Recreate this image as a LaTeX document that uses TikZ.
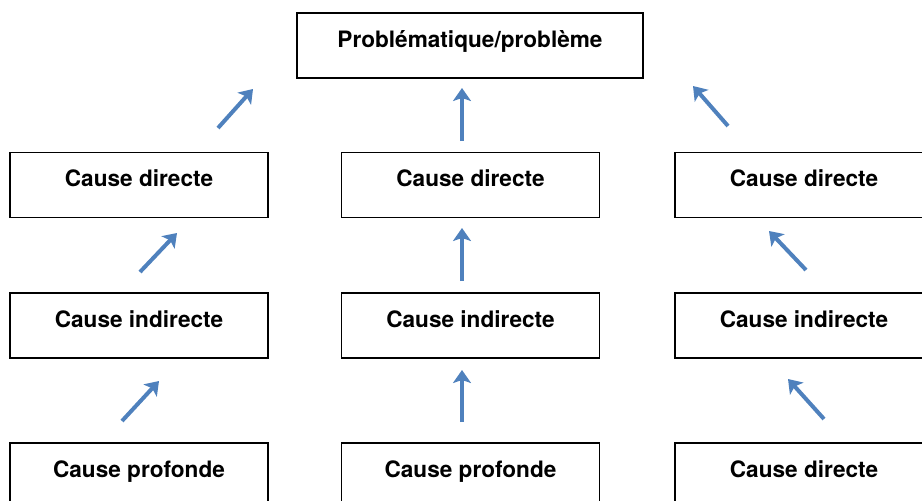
\documentclass[tikz,border=0pt]{standalone}
\usepackage{fontspec}
\setmainfont{TeX Gyre Heros}
\usetikzlibrary{arrows.meta}
\definecolor{arrowblue}{RGB}{79,129,189}

\begin{document}
\begin{tikzpicture}[x=1pt, y=-1pt,
                    box/.style={
                    draw,
                    line width=1.3pt,
                    text centered,
                    minimum width=258pt,
                    minimum height=65pt,
                    inner sep=0pt,
                    text height=15pt,
                    text depth=12pt,
                    font=\fontsize{22.6}{27}\selectfont\bfseries,
                    anchor=center,
                    },
                    up/.style={
                    draw=arrowblue,
                    line width=4pt,
                    -{Stealth[length=13pt, width=18pt, inset=3pt]},
                    } ]

\useasboundingbox (0,0) rectangle (922,501);
\clip (0,0) rectangle (922,501);

\draw
(470,45.5) node[box, minimum width=346pt] (prob) {Problématique/problème}
(139,185) node[box] (dir_l) {Cause directe}
(470.5,185) node[box] (dir_m) {Cause directe}
(804,185) node[box] (dir_r) {Cause directe}
(139,325.5) node[box] (ind_l) {Cause indirecte}
(470.5,325.5) node[box] (ind_m) {Cause indirecte}
(804,325.5) node[box] (ind_r) {Cause indirecte}
(139,475.5) node[box] (prof_l) {Cause profonde}
(470.5,475.5) node[box] (prof_m) {Cause profonde}
(804,475.5) node[box] (dir_b) {Cause directe}
;

% arrow ends
\coordinate (a1_from) at (218,128);  \coordinate (a1_to) at (253,89);
\coordinate (a2_from) at (462,141);  \coordinate (a2_to) at (462,88);
\coordinate (a3_from) at (728,126);  \coordinate (a3_to) at (693,86);
\coordinate (b1_from) at (140,272);  \coordinate (b1_to) at (177,233);
\coordinate (b2_from) at (462,281);  \coordinate (b2_to) at (462,228);
\coordinate (b3_from) at (806,270);  \coordinate (b3_to) at (769,231);
\coordinate (c1_from) at (122,421);  \coordinate (c1_to) at (159,381);
\coordinate (c2_from) at (462,422);  \coordinate (c2_to) at (462,370);
\coordinate (c3_from) at (824,419);  \coordinate (c3_to) at (788,379);

\foreach \a in {a1,a2,a3,b1,b2,b3,c1,c2,c3}
  \draw[up] (\a_from) -- (\a_to);

\end{tikzpicture}
\end{document}
